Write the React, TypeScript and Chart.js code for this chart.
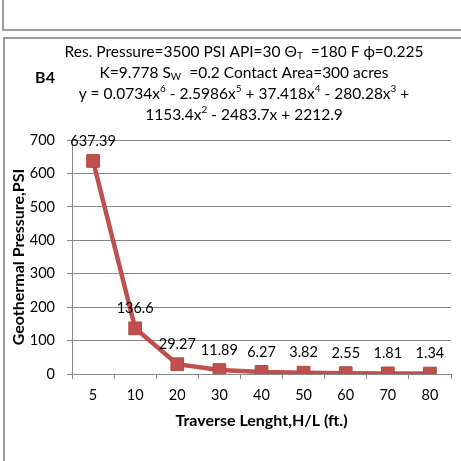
import React, { useEffect, useRef } from "react";
import { Chart, registerables } from "chart.js";

Chart.register(...registerables);

// ---- data ----
const categories: string[] = ["5", "10", "20", "30", "40", "50", "60", "70", "80"];
const pressure: number[] = [637.39, 136.6, 29.27, 11.89, 6.27, 3.82, 2.55, 1.81, 1.34];
const pointLabels: string[] = ["637.39", "136.6", "29.27", "11.89", "6.27", "3.82", "2.55", "1.81", "1.34"];
const yMin = 0;
const yMax = 700;
const yStep = 100;
const xTitle = "Traverse Lenght,H/L (ft.)";
const yTitle = "Geothermal Pressure,PSI";
const panelTag = "B4";

type Seg = { t: string; s?: "sub" | "sup" };
const titleLines: Seg[][] = [
  [{ t: "Res. Pressure=3500 PSI API=30 Θ" }, { t: "T", s: "sub" }, { t: "  =180 F ϕ=0.225" }],
  [{ t: "K=9.778 S" }, { t: "W", s: "sub" }, { t: "  =0.2 Contact Area=300 acres" }],
  [
    { t: "y = 0.0734x" }, { t: "6", s: "sup" },
    { t: " - 2.5986x" }, { t: "5", s: "sup" },
    { t: " + 37.418x" }, { t: "4", s: "sup" },
    { t: " - 280.28x" }, { t: "3", s: "sup" },
    { t: " +" },
  ],
  [{ t: "1153.4x" }, { t: "2", s: "sup" }, { t: " - 2483.7x + 2212.9" }],
];

const FONT = "Lato, 'Open Sans', sans-serif";
const RED = "#C0504D";
const GRID = "#878787";

const titlePlugin = {
  id: "richTitle",
  afterDraw(chart: any) {
    const ctx: CanvasRenderingContext2D = chart.ctx;
    ctx.save();
    const size = 15.5;
    const small = 10;
    const cx = 244;
    const y0 = 52;
    const lh = 21;
    ctx.fillStyle = "#000";
    ctx.textBaseline = "middle";
    ctx.textAlign = "left";
    titleLines.forEach((line, i) => {
      let w = 0;
      line.forEach((sg) => {
        ctx.font = `${sg.s ? small : size}px ${FONT}`;
        w += ctx.measureText(sg.t).width;
      });
      let x = cx - w / 2;
      const y = y0 + i * lh;
      line.forEach((sg) => {
        ctx.font = `${sg.s ? small : size}px ${FONT}`;
        const dy = sg.s === "sub" ? 4 : sg.s === "sup" ? -5 : 0;
        ctx.fillText(sg.t, x, y + dy);
        x += ctx.measureText(sg.t).width;
      });
    });
    ctx.font = `bold 16px ${FONT}`;
    ctx.textAlign = "center";
    ctx.fillText(panelTag, 45, 78);
    ctx.restore();
  },
};

const valueLabelPlugin = {
  id: "valueLabels",
  afterDatasetsDraw(chart: any) {
    const ctx: CanvasRenderingContext2D = chart.ctx;
    const meta = chart.getDatasetMeta(0);
    ctx.save();
    ctx.font = `14.5px ${FONT}`;
    ctx.fillStyle = "#000";
    ctx.textAlign = "center";
    ctx.textBaseline = "middle";
    meta.data.forEach((pt: any, i: number) => {
      ctx.fillText(pointLabels[i], pt.x, pt.y - 20);
    });
    ctx.restore();
  },
};

export default function App() {
  const ref = useRef<HTMLCanvasElement>(null);
  useEffect(() => {
    document.body.style.margin = "0";
    const c = new Chart(ref.current!, {
      type: "line",
      data: {
        labels: categories,
        datasets: [
          {
            data: pressure,
            borderColor: RED,
            backgroundColor: RED,
            borderWidth: 4.5,
            pointStyle: "rect",
            pointRadius: 9,
            pointBorderWidth: 1,
            pointBorderColor: "#B5483F",
            pointBackgroundColor: RED,
            tension: 0,
          },
        ],
      },
      options: {
        animation: false,
        responsive: false,
        maintainAspectRatio: false,
        layout: { padding: { top: 140, left: 5, right: 10, bottom: 27 } },
        plugins: { legend: { display: false }, tooltip: { enabled: false }, title: { display: false } },
        scales: {
          x: {
            type: "category",
            offset: true,
            grid: { offset: true, drawOnChartArea: false, tickLength: 5, color: GRID, tickColor: GRID },
            border: { color: GRID, width: 1 },
            ticks: { font: { family: FONT, size: 14.5 }, color: "#000", padding: 8, maxRotation: 0, autoSkip: false },
            title: { display: true, text: xTitle, color: "#000", font: { family: FONT, size: 16, weight: "bold" }, padding: { top: 4, bottom: 4 } },
            afterFit(scale: any) {
              scale.height = 60;
            },
          },
          y: {
            min: yMin,
            max: yMax,
            ticks: { stepSize: yStep, font: { family: FONT, size: 14.5 }, color: "#000", padding: 12 },
            grid: { color: GRID, tickColor: GRID, tickLength: 5 },
            border: { color: GRID, width: 1 },
            title: { display: true, text: yTitle, color: "#000", font: { family: FONT, size: 16, weight: "bold" }, padding: { top: 4, bottom: 4 } },
            afterFit(scale: any) {
              scale.width = 67;
            },
          },
        },
      },
      plugins: [titlePlugin, valueLabelPlugin],
    } as any);
    return () => c.destroy();
  }, []);

  const line = "#9a9a9a";
  return (
    <div style={{ position: "relative", width: 461, height: 461, overflow: "hidden", background: "#fff" }}>
      <canvas ref={ref} width={461} height={461} style={{ position: "absolute", left: 0, top: 0 }} />
      <div style={{ position: "absolute", left: 2, top: 0, width: 2, height: 31, background: line }} />
      <div style={{ position: "absolute", left: 2, top: 29, width: 459, height: 2, background: line }} />
      <div style={{ position: "absolute", left: 3, top: 37, width: 458, height: 2, background: line }} />
      <div style={{ position: "absolute", left: 3, top: 37, width: 2, height: 424, background: line }} />
    </div>
  );
}
